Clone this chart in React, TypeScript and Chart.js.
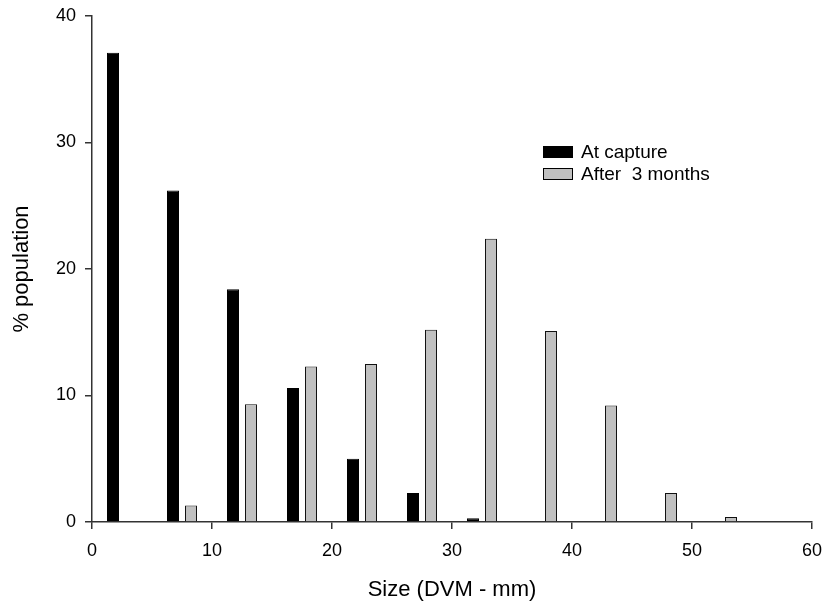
import React, { useEffect, useRef } from "react";
import { Chart, registerables } from "chart.js";

Chart.register(...registerables);

// Size classes (DVM, mm) – centre of each 5 mm bin
const binCenters = [2.5, 7.5, 12.5, 17.5, 22.5, 27.5, 32.5, 37.5, 42.5, 47.5, 52.5];
// % population at capture
const atCapture = [37.1, 26.2, 18.4, 10.6, 5.0, 2.3, 0.3, null, null, null, null];
// % population after 3 months
const after3Months = [null, 1.3, 9.3, 12.3, 12.5, 15.2, 22.4, 15.1, 9.2, 2.3, 0.4];

const xTicks = [0, 10, 20, 30, 40, 50, 60];
const yTicks = [0, 10, 20, 30, 40];
const seriesLabels = ["At capture", "After  3 months"];
const xTitle = "Size (DVM - mm)";
const yTitle = "% population";

const FONT = "'Liberation Sans', Arial, Helvetica, sans-serif";

const legendPlugin = {
  id: "customLegend",
  afterDraw(chart: any) {
    const ctx = chart.ctx;
    const area = chart.chartArea;
    const x0 = area.left + 451;
    const y0 = area.top + 130;
    const fills = ["#000000", "#c0c0c0"];
    ctx.save();
    ctx.font = `19px ${FONT}`;
    ctx.textBaseline = "middle";
    ctx.textAlign = "left";
    seriesLabels.forEach((lab, i) => {
      const y = y0 + i * 22;
      ctx.fillStyle = fills[i];
      ctx.fillRect(x0, y, 30, 12);
      ctx.strokeStyle = "#000";
      ctx.lineWidth = 1;
      ctx.strokeRect(x0 + 0.5, y + 0.5, 29, 11);
      ctx.fillStyle = "#000";
      ctx.fillText(lab, x0 + 38, y + 6.5);
    });
    ctx.restore();
  },
};

export default function App() {
  const ref = useRef<HTMLCanvasElement | null>(null);

  useEffect(() => {
    document.body.style.margin = "0";
    const canvas = ref.current;
    if (!canvas) return;
    const chart = new Chart(canvas, {
      type: "bar",
      data: {
        datasets: [
          {
            label: seriesLabels[0],
            data: binCenters.map((x, i) => ({ x, y: atCapture[i] })),
            backgroundColor: "#000000",
            borderColor: "#000000",
            borderWidth: 1,
          },
          {
            label: seriesLabels[1],
            data: binCenters.map((x, i) => ({ x, y: after3Months[i] })),
            backgroundColor: "#c0c0c0",
            borderColor: "#111111",
            borderWidth: 1,
          },
        ],
      } as any,
      options: {
        animation: false,
        responsive: false,
        events: [],
        categoryPercentage: 0.6,
        barPercentage: 0.667,
        layout: { padding: { left: 0, top: 16, right: 12, bottom: 0 } },
        plugins: {
          legend: { display: false },
          tooltip: { enabled: false },
        },
        scales: {
          x: {
            type: "linear",
            min: 0,
            max: 60,
            offset: false,
            afterFit: (s: any) => {
              s.height = 83;
              s.paddingLeft = 0;
              s.paddingRight = 0;
            },
            afterBuildTicks: (s: any) => {
              s.ticks = xTicks.map((v) => ({ value: v }));
            },
            grid: {
              display: true,
              drawOnChartArea: false,
              drawTicks: true,
              tickLength: 7,
              color: "#333",
              lineWidth: 1.5,
              offset: false,
            },
            border: { display: true, color: "#333", width: 1.5 },
            ticks: {
              color: "#000",
              font: { family: FONT, size: 18 },
              padding: 11,
              maxRotation: 0,
            },
            title: {
              display: true,
              text: xTitle,
              color: "#000",
              font: { family: FONT, size: 22 },
              padding: { top: 0, bottom: 2 },
            },
          },
          y: {
            type: "linear",
            min: 0,
            max: 40,
            afterFit: (s: any) => {
              s.width = 92;
              s.paddingTop = 0;
              s.paddingBottom = 0;
            },
            afterBuildTicks: (s: any) => {
              s.ticks = yTicks.map((v) => ({ value: v }));
            },
            grid: {
              display: true,
              drawOnChartArea: false,
              drawTicks: true,
              tickLength: 7,
              color: "#333",
              lineWidth: 1.5,
            },
            border: { display: true, color: "#333", width: 1.5 },
            ticks: {
              color: "#000",
              font: { family: FONT, size: 18 },
              padding: 9,
            },
            title: {
              display: true,
              text: yTitle,
              color: "#000",
              font: { family: FONT, size: 22 },
              padding: { top: 9, bottom: 0 },
            },
          },
        },
      } as any,
      plugins: [legendPlugin],
    });
    return () => chart.destroy();
  }, []);

  return (
    <div style={{ width: 824, height: 605 }}>
      <canvas ref={ref} width={824} height={605} style={{ display: "block" }} />
    </div>
  );
}
